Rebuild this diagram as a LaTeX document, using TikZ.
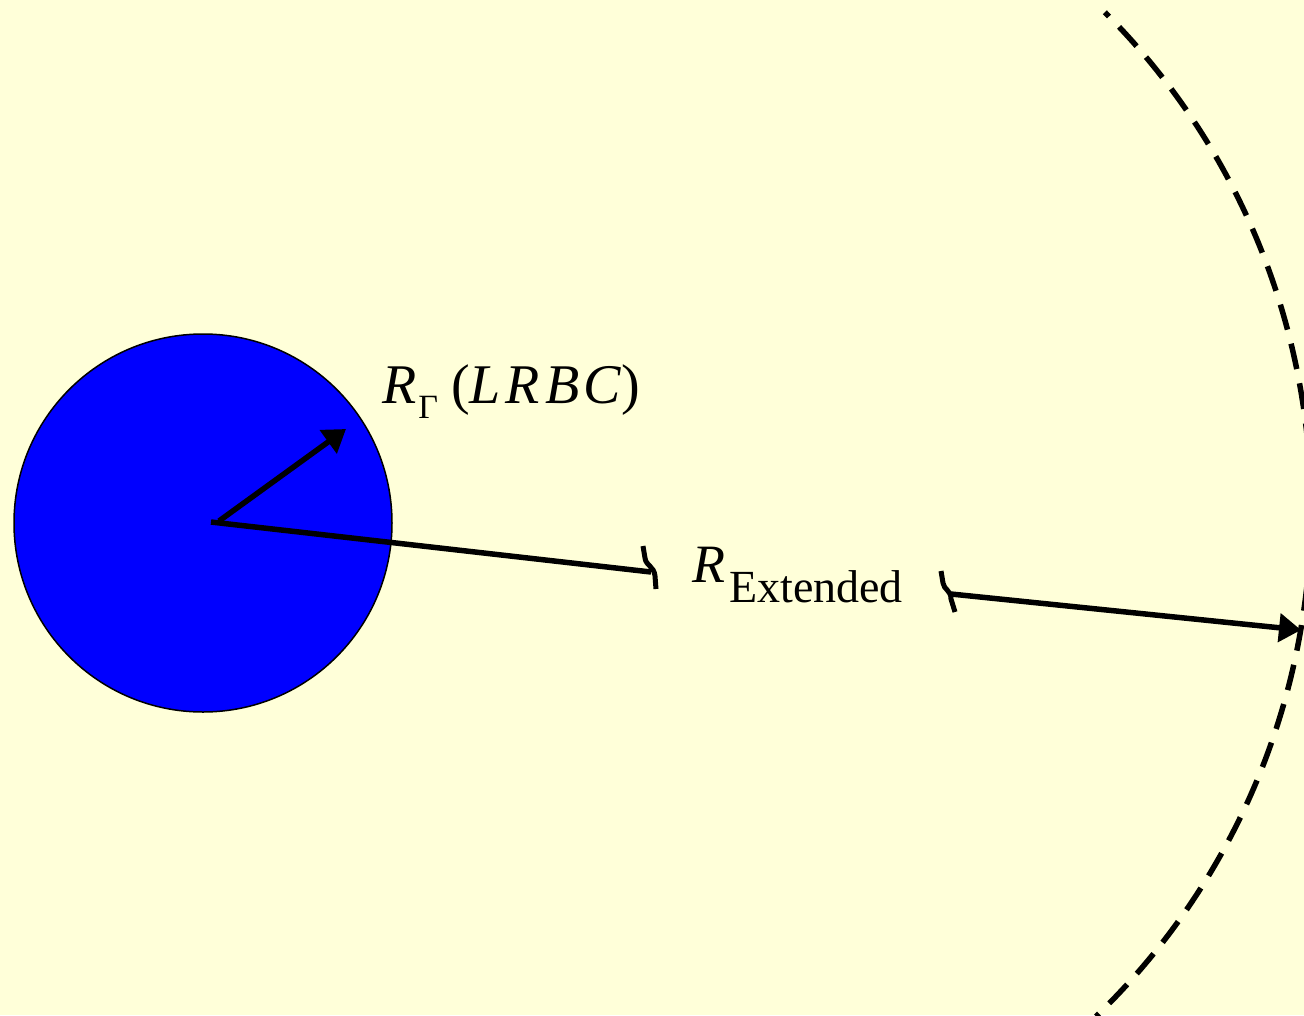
\documentclass[tikz,border=0pt]{standalone}
\usepackage{fontspec}
\setmainfont{Liberation Serif}
\usetikzlibrary{arrows.meta}
\definecolor{bg}{RGB}{255,255,217}
\begin{document}
\begin{tikzpicture}[x=1pt,y=-1pt,
  heavy/.style={line width=5.5pt},
  tipped/.style={heavy,-{Triangle[length=22pt,width=28pt]}},
  breakmark/.style={line width=5pt,line cap=butt},
  boundary/.style={line width=5.5pt,dash pattern=on 26pt off 14.5pt,dash phase=20pt},
  lbl/.style={anchor=base west,inner sep=0pt}]
\path[fill=bg] (0,0) rectangle (1304,1015);
\useasboundingbox (0,0) rectangle (1304,1015);
\clip (0,0) rectangle (1304,1015);
% dashed outer boundary
\draw[boundary] (607,510) ++(-45:704) arc[start angle=-45,end angle=46,radius=704];
% core circle
\node[circle,draw=black,line width=1.5pt,fill=blue,minimum size=378pt,inner sep=0pt] (core) at (203,523) {};
% radius arrow of core
\coordinate (a1s) at (219,521);
\coordinate (a1e) at (346,429);
\draw[tipped] (a1s) -- (a1e);
% extended radius, broken
\coordinate (c2) at (211,522);
\coordinate (bl) at (651,572);
\coordinate (br) at (951,594);
\coordinate (tip) at (1301,630);
\draw[heavy] (c2) -- (bl);
\draw[tipped] (br) -- (tip);
\draw[breakmark] (643,546) -- (645,558) .. controls (646,566) and (654,566) .. (655,576) -- (656,589);
\draw[breakmark] (941,571) -- (943,583) .. controls (944,590) and (951,590) .. (951,599) -- (955,612);
% labels
\node[lbl] (lrbc) at (382,403) {\fontsize{56}{62}\selectfont\textit{R}\kern2pt\raisebox{-15pt}{\fontsize{34}{38}\selectfont Γ}\kern13pt(\textit{L\kern5pt R\kern5pt B\kern4pt C})};
\node[lbl] (ext) at (692,582) {\fontsize{54}{60}\selectfont\textit{R}\kern4pt\raisebox{-20pt}{\fontsize{46}{50}\selectfont Extended}};
\end{tikzpicture}
\end{document}
